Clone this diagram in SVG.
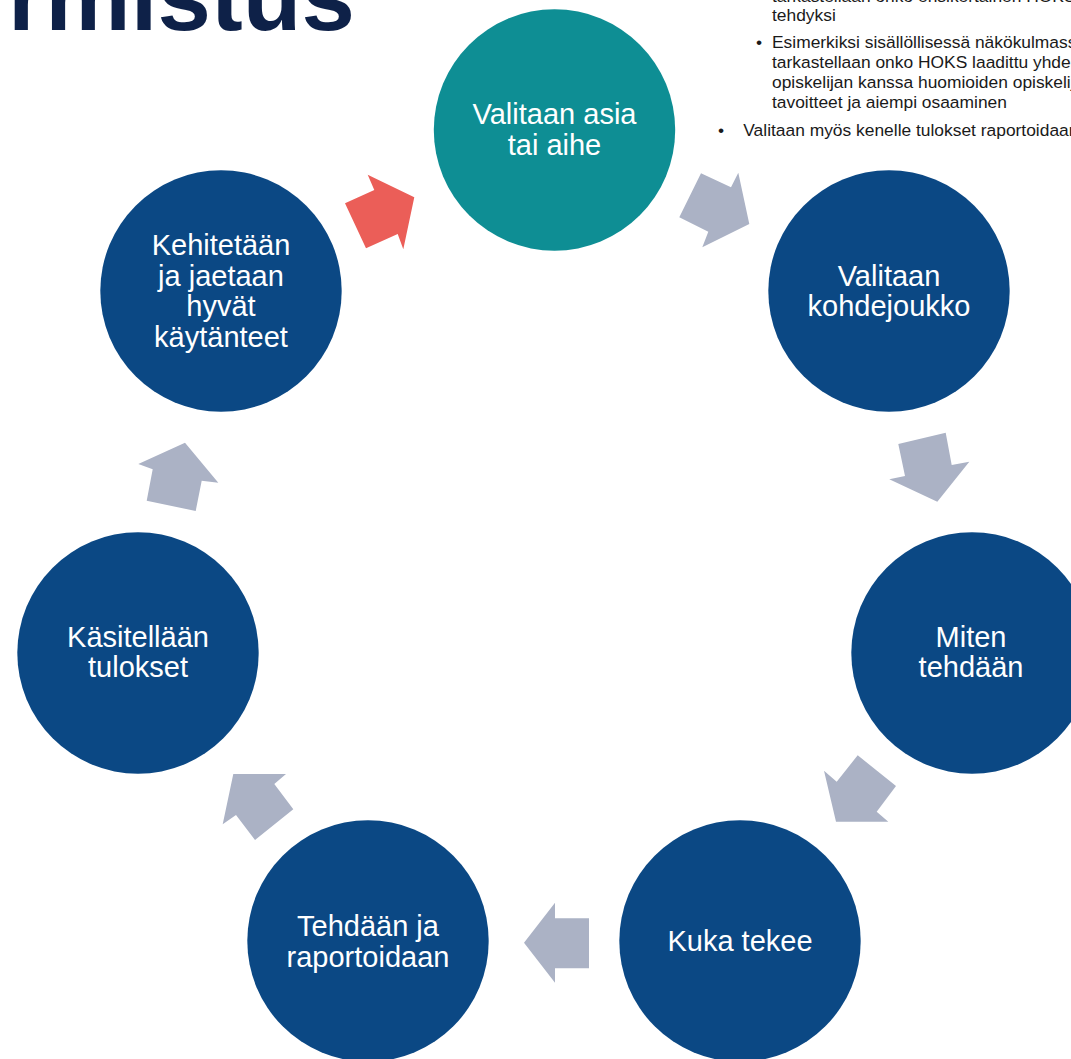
<svg xmlns="http://www.w3.org/2000/svg" width="1071" height="1059" viewBox="0 0 1071 1059">
  <style>
    .node { fill: #0b4884; }
    .start { fill: #0e8e94; }
    .lbl { fill: #ffffff; font-family: "Liberation Sans", Arial, sans-serif; font-size: 29px; text-anchor: middle; }
    .arrow { fill: #abb2c5; }
    .arrow-red { fill: #eb5e58; }
    .note { fill: #1a1a1a; font-family: "Liberation Sans", Arial, sans-serif; font-size: 17.4px; }
    .title { fill: #0e2148; font-family: "Liberation Sans", Arial, sans-serif; font-size: 96px; font-weight: bold; }
  </style>
  <rect width="1071" height="1059" fill="#ffffff"/>

  <text class="title" x="8" y="30">rmistus</text>

  <g id="notes">
    <text class="note" x="772" y="1.5">tarkastellaan onko ensikertainen HOKS</text>
    <text class="note" x="772" y="20.7">tehdyksi</text>
    <text class="note" x="756" y="48.3" font-size="14">•</text>
    <text class="note" x="772" y="48.3">Esimerkiksi sisällöllisessä näkökulmassa</text>
    <text class="note" x="772" y="68.3">tarkastellaan onko HOKS laadittu yhdessä</text>
    <text class="note" x="772" y="88.3">opiskelijan kanssa huomioiden opiskelijan</text>
    <text class="note" x="772" y="108.3">tavoitteet ja aiempi osaaminen</text>
    <text class="note" x="718" y="136">•</text>
    <text class="note" x="743.3" y="136">Valitaan myös kenelle tulokset raportoidaan</text>
  </g>

  <g id="connectors">
    <polygon class="arrow-red" points="345,203.3 374.3,190 367.7,174.7 414.3,197.3 403.3,249.3 397.7,234 366,248.3"/>
    <polygon class="arrow" points="701,173.3 731,187.3 738.3,172.7 749.3,224 702.3,247.3 708.3,231.7 679.3,217.3"/>
    <polygon class="arrow" points="898.3,444 945.7,432.7 951.7,465 969.3,461.7 937.3,501.7 889.3,479.3 905,476"/>
    <polygon class="arrow" points="857.7,755.3 896,786 876.7,811.7 888.3,821.7 836,821.7 824,770.7 836.7,781.7"/>
    <polygon class="arrow" points="555,902.7 555,918.3 589,918.3 589,968.3 555,968.3 555,982.7 524,942.7"/>
    <polygon class="arrow" points="233.3,774 286,774 274.3,784 293.3,809.3 255,840 236,815 222.7,824.3"/>
    <polygon class="arrow" points="185,442.7 218.3,482.7 201.7,480.7 195.7,511 146.7,500.7 152.7,469.3 138.3,464"/>
  </g>

  <g id="node-valitaan-asia">
    <circle class="start" cx="554.5" cy="130" r="120.7"/>
    <text class="lbl" x="554.5" y="124">Valitaan asia</text>
    <text class="lbl" x="554.5" y="155">tai aihe</text>
  </g>
  <g id="node-kohdejoukko">
    <circle class="node" cx="889" cy="291" r="120.7"/>
    <text class="lbl" x="889" y="285.5">Valitaan</text>
    <text class="lbl" x="889" y="316">kohdejoukko</text>
  </g>
  <g id="node-miten">
    <circle class="node" cx="972" cy="653" r="120.7"/>
    <text class="lbl" x="971" y="647">Miten</text>
    <text class="lbl" x="971" y="677">tehdään</text>
  </g>
  <g id="node-kuka">
    <circle class="node" cx="740" cy="941" r="120.7"/>
    <text class="lbl" x="740" y="951">Kuka tekee</text>
  </g>
  <g id="node-tehdaan">
    <circle class="node" cx="368" cy="941" r="120.7"/>
    <text class="lbl" x="368" y="936">Tehdään ja</text>
    <text class="lbl" x="368" y="967">raportoidaan</text>
  </g>
  <g id="node-kasitellaan">
    <circle class="node" cx="138" cy="653" r="120.7"/>
    <text class="lbl" x="138" y="647">Käsitellään</text>
    <text class="lbl" x="138" y="677">tulokset</text>
  </g>
  <g id="node-kehitetaan">
    <circle class="node" cx="221" cy="291" r="120.7"/>
    <text class="lbl" x="221" y="255">Kehitetään</text>
    <text class="lbl" x="221" y="286">ja jaetaan</text>
    <text class="lbl" x="221" y="316">hyvät</text>
    <text class="lbl" x="221" y="347">käytänteet</text>
  </g>
</svg>
